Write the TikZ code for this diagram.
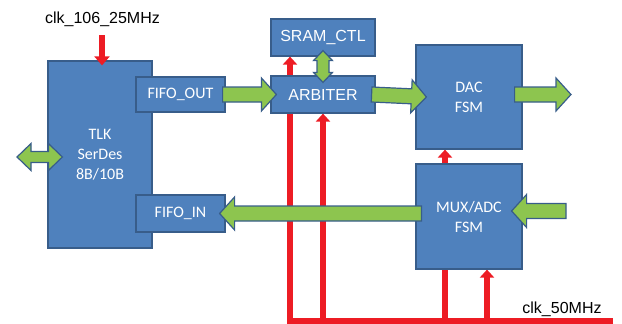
\documentclass[tikz,border=0pt]{standalone}
\usepackage{fontspec}
\setmainfont{Liberation Sans}
\newfontfamily\calibri{Carlito}
\usetikzlibrary{arrows.meta,calc}

\definecolor{boxblue}{RGB}{79,129,189}
\definecolor{boxedge}{RGB}{56,93,138}
\definecolor{busgreen}{RGB}{141,197,79}
\definecolor{clkred}{RGB}{237,28,36}

\pgfdeclarelayer{back}
\pgfsetlayers{back,main}

\tikzset{
  blk/.style={draw=boxedge, fill=boxblue, line width=1.2pt, text=white, inner sep=0pt,
    align=center, font=\calibri\fontsize{16}{20}\selectfont},
  blka/.style={blk, font=\fontsize{16}{19}\selectfont},
  busarrow/.style={draw=boxedge, fill=busgreen, line width=1.2pt, line join=miter},
  clkline/.style={draw=clkred, line width=6.5pt, line join=miter,
    -{Triangle[width=14pt,length=8pt]}},
  lbl/.style={font=\fontsize{16}{19}\selectfont, inner sep=0pt}
}

% block arrow #1 -> #2
\newcommand{\blockarrow}[2]{%
  \draw[busarrow] let \p1=(#1), \p2=(#2),
    \n1={atan2(\y2-\y1,\x2-\x1)}, \n2={veclen(\x2-\x1,\y2-\y1)}, \n3={\n2-15} in
    [shift={(\p1)}, rotate=\n1]
    (0,7.5) -- (\n3,7.5) -- (\n3,16.5) -- (\n2,0) -- (\n3,-16.5) -- (\n3,-7.5) -- (0,-7.5) -- cycle;}

% two-headed block arrow: shaft, head, head length, from, to
\newcommand{\dblockarrow}[5]{%
  \draw[busarrow] let \p1=(#4), \p2=(#5),
    \n1={atan2(\y2-\y1,\x2-\x1)}, \n2={veclen(\x2-\x1,\y2-\y1)}, \n3={\n2-#3} in
    [shift={(\p1)}, rotate=\n1]
    (0,0) -- (#3,#2) -- (#3,#1) -- (\n3,#1) -- (\n3,#2) -- (\n2,0)
    -- (\n3,-#2) -- (\n3,-#1) -- (#3,-#1) -- (#3,-#2) -- cycle;}

\begin{document}
\begin{tikzpicture}[x=1pt,y=-1pt]
\useasboundingbox (0,0) rectangle (622,324);
\node[blk, minimum width=104pt, minimum height=187pt] (tlk) at (100,154.5) {TLK\\SerDes\\8B/10B};
\node[blk, minimum width=89pt, minimum height=35pt] (fifoout) at (180.5,94.5) {FIFO\_OUT};
\node[blk, minimum width=89pt, minimum height=37pt] (fifoin) at (180.5,213.5) {FIFO\_IN};
\node[blka, minimum width=104pt, minimum height=37pt] (sram) at (323,37.5) {SRAM\_CTL};
\node[blka, minimum width=104pt, minimum height=37pt] (arb) at (323,94.5) {ARBITER};
\node[blk, minimum width=106pt, minimum height=104pt] (dac) at (469,97) {DAC\\FSM};
\node[blk, minimum width=106pt, minimum height=105pt] (mux) at (469,216.5) {MUX/ADC\\FSM};
\coordinate (clk50) at (613,321);
\coordinate (dacclk) at ([xshift=-24pt]dac.south);
\coordinate (muxclk) at ([xshift=18pt]mux.south);
\coordinate (dacout) at (571,94.5);
\coordinate (adcin) at (566,211);
\coordinate (serial) at (17,157);
\coordinate (clk106) at (102,35);
% clock lines behind the boxes
\begin{pgfonlayer}{back}
\draw[clkline] (clk50) -| ([xshift=-33pt]sram.south);
\draw[clkline] (arb.south |- clk50) -- (arb.south);
\draw[clkline] (dacclk |- clk50) -- (dacclk);
\draw[clkline] (muxclk |- clk50) -- (muxclk);
\end{pgfonlayer}
\blockarrow{[xshift=-3pt]fifoout.east}{[xshift=6pt]arb.west}
\blockarrow{[xshift=-4pt]arb.east}{[xshift=11pt]dac.west}
\blockarrow{$(dac.east |- dacout)+(-8,0)$}{dacout}
\blockarrow{$(mux.west |- fifoin.east)+(6,0)$}{[xshift=-6pt]fifoin.east}
\blockarrow{adcin}{$(mux.east |- adcin)+(-11,0)$}
\dblockarrow{5.5}{13.5}{14}{serial}{$(tlk.west |- serial)+(15,0)$}
\dblockarrow{6}{9.5}{10}{[yshift=6pt]sram.south}{[yshift=-7pt]arb.north}
\draw[clkline, -{Triangle[width=15pt,length=9pt]}] (clk106) -- ([xshift=2pt,yshift=-5pt]tlk.north);
\node[lbl] (clk106lbl) at (102.5,19) {clk\_106\_25MHz};
\node[lbl] (clk50lbl) at (562,309) {clk\_50MHz};
\end{tikzpicture}
\end{document}
